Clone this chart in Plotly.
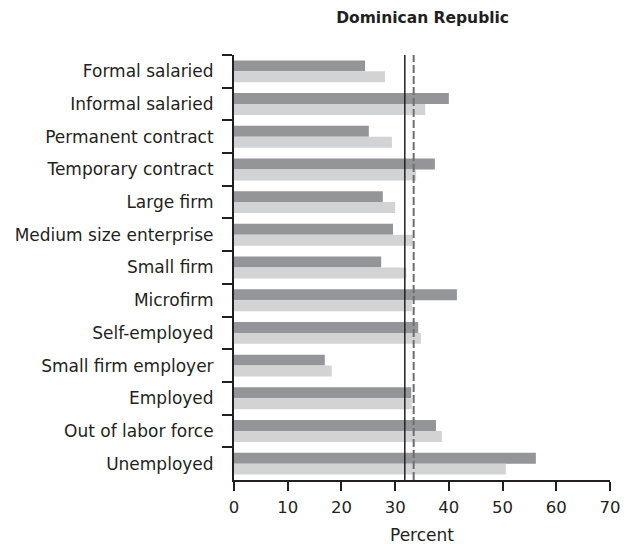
import plotly.graph_objects as go

# --- Data ---
CATEGORIES = [
    "Formal salaried", "Informal salaried", "Permanent contract",
    "Temporary contract", "Large firm", "Medium size enterprise",
    "Small firm", "Microfirm", "Self-employed", "Small firm employer",
    "Employed", "Out of labor force", "Unemployed",
]
DARK_VALUES = [24.4, 40.0, 25.1, 37.4, 27.7, 29.6, 27.4, 41.5, 34.3, 16.9, 33.0, 37.6, 56.2]
LIGHT_VALUES = [28.1, 35.6, 29.4, 33.9, 30.0, 33.3, 32.1, 33.1, 34.8, 18.2, 33.1, 38.7, 50.6]
SOLID_LINE = 31.8
DASHED_LINE = 33.45
X_TICKS = [0, 10, 20, 30, 40, 50, 60, 70]

FONT = "DejaVu Sans"
TEXT_COLOR = "#231f20"
AXIS_COLOR = "#231f20"

fig = go.Figure()
fig.add_trace(go.Bar(y=CATEGORIES, x=DARK_VALUES, orientation="h",
                     marker=dict(color="#939598", line=dict(width=0)), showlegend=False))
fig.add_trace(go.Bar(y=CATEGORIES, x=LIGHT_VALUES, orientation="h",
                     marker=dict(color="#d1d3d4", line=dict(width=0)), showlegend=False))

# reference lines
fig.add_shape(type="line", xref="x", yref="paper", x0=SOLID_LINE, x1=SOLID_LINE,
              y0=0, y1=1, line=dict(color=AXIS_COLOR, width=1.5))
fig.add_shape(type="line", xref="x", yref="paper", x0=DASHED_LINE, x1=DASHED_LINE,
              y0=0, y1=1, line=dict(color="#6d6e71", width=2, dash="8px,3px"))

fig.update_xaxes(range=[0, 70], tickvals=X_TICKS, showgrid=False, zeroline=False,
                 showline=True, linecolor=AXIS_COLOR, linewidth=2,
                 ticks="outside", ticklen=9, tickwidth=2, tickcolor=AXIS_COLOR,
                 ticklabelstandoff=2,
                 tickfont=dict(size=16.5, color=TEXT_COLOR, family=FONT),
                 title=dict(text="Percent", font=dict(size=17, color=TEXT_COLOR, family=FONT),
                            standoff=13))
fig.update_yaxes(autorange="reversed", showgrid=False, zeroline=False,
                 showline=True, linecolor=AXIS_COLOR, linewidth=2,
                 ticks="outside", tickson="boundaries", ticklen=10, tickwidth=2,
                 tickcolor=AXIS_COLOR, ticklabelstandoff=15,
                 tickfont=dict(size=17, color=TEXT_COLOR, family=FONT))

# page body adds 8px offset, margins compensate
fig.update_layout(
    width=633, height=544,
    barmode="group", bargap=0.33, bargroupgap=0,
    plot_bgcolor="white", paper_bgcolor="white",
    margin=dict(l=226, r=31, t=47, b=72, autoexpand=False),
    title=dict(text="<b>Dominican Republic</b>", x=0.655, xanchor="center",
               y=0.9825, yanchor="middle",
               font=dict(size=15.5, color=TEXT_COLOR, family=FONT)),
)

fig.write_html("out.html")
